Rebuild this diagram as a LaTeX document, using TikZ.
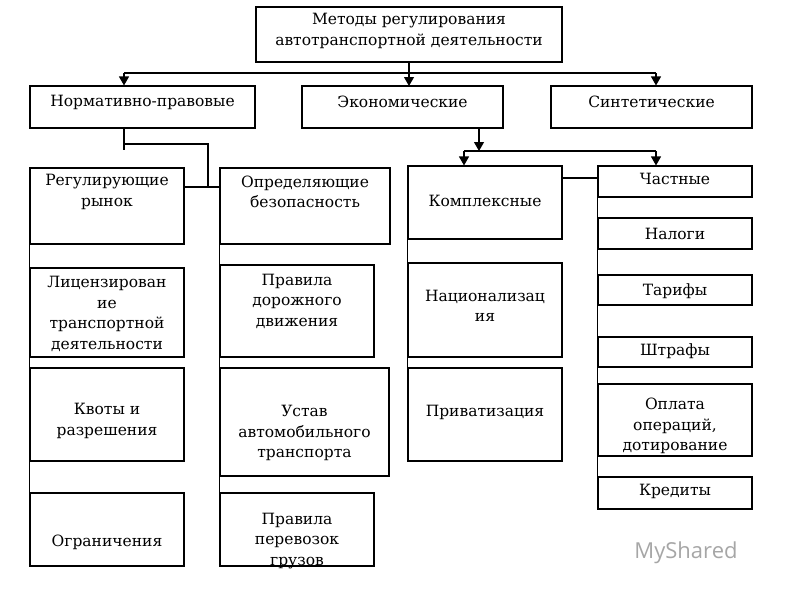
\documentclass[tikz,border=0pt]{standalone}
\usepackage{fontspec}
\setmainfont{DejaVu Serif}
\newfontfamily\wmfont{Open Sans}
\usetikzlibrary{arrows.meta}
\tikzset{
 box/.style={draw,line width=1.1pt,inner sep=0pt},
 txt/.style={align=center,font=\fontsize{15.5}{20.5}\selectfont,inner sep=0pt,yshift=2pt},
 conn/.style={line width=1.1pt},
 arr/.style={line width=1.1pt,-{Triangle[length=9pt,width=10pt]}}
}
\newcommand\bx[7]{%
 \node[box,minimum width={(#4-#2)*1pt},minimum height={(#5-#3)*1pt}] (#1) at ({(#2+#4)/2},{(#3+#5)/2}) {};
 \node[txt] (#1t) at ({(#2+#4)/2},#6) {#7};}
\begin{document}
\begin{tikzpicture}[x=1pt,y=-1pt]
\useasboundingbox (0,0) rectangle (800,600);
\bx{top}{256}{7}{562}{62}{33}{Методы регулирования\\автотранспортной деятельности}
\bx{np}{30}{86}{255}{128}{104}{Нормативно-правовые}
\bx{ec}{302}{86}{503}{128}{104}{Экономические}
\bx{sy}{551}{86}{752}{128}{104}{Синтетические}
\bx{l1}{30}{168}{184}{244}{194}{Регулирующие\\рынок}
\bx{l2}{30}{268}{184}{357}{316}{Лицензирован\\ие\\транспортной\\деятельности}
\bx{l3}{30}{368}{184}{461}{423}{Квоты и\\разрешения}
\bx{l4}{30}{493}{184}{566}{544}{Ограничения}
\bx{m1}{220}{168}{390}{244}{194}{Определяющие\\безопасность}
\bx{m2}{220}{265}{374}{357}{303}{Правила\\дорожного\\движения}
\bx{m3}{220}{368}{389}{476}{435}{Устав\\автомобильного\\транспорта}
\bx{m4}{220}{493}{374}{566}{543}{Правила\\перевозок\\грузов}
\bx{e1}{408}{166}{562}{239}{203}{Комплексные}
\bx{e2}{408}{263}{562}{357}{308}{Национализац\\ия}
\bx{e3}{408}{368}{562}{461}{414}{Приватизация}
\bx{r1}{598}{166}{752}{197}{181}{Частные}
\bx{r2}{598}{218}{752}{249}{236}{Налоги}
\bx{r3}{598}{275}{752}{305}{293}{Тарифы}
\bx{r4}{598}{337}{752}{367}{353}{Штрафы}
\bx{r5}{598}{384}{752}{456}{428}{Оплата\\операций,\\дотирование}
\bx{r6}{598}{477}{752}{509}{493}{Кредиты}
\draw[arr] (top.south) -- (409,86);
\draw[conn] (124,73) -- (656,73);
\draw[arr] (124,73) -- (np.north -| 124,0);
\draw[arr] (656,73) -- (sy.north -| 656,0);
\draw[conn] (np.south -| 124,0) -- (124,150);
\draw[conn] (124,144) -- (208,144) -- (208,187);
\draw[conn] (l1.east |- 0,187) -- (m1.west |- 0,187);
\draw[conn] (l1.south west) -- (l4.north west);
\draw[conn] (m1.south west) -- (m4.north west);
\draw[arr] (ec.south -| 479,0) -- (479,151);
\draw[conn] (464,151) -- (656,151);
\draw[arr] (464,151) -- (e1.north -| 464,0);
\draw[arr] (656,151) -- (r1.north -| 656,0);
\draw[conn] (e1.south west) -- (e3.north west);
\draw[conn] (e1.east |- 0,178) -- (r1.west |- 0,178);
\draw[conn] (r1.south west) -- (r6.north west);
\node[font=\wmfont\fontsize{22}{22}\selectfont,text=gray!70] (wm) at (686,553) {MyShared};
\end{tikzpicture}
\end{document}
